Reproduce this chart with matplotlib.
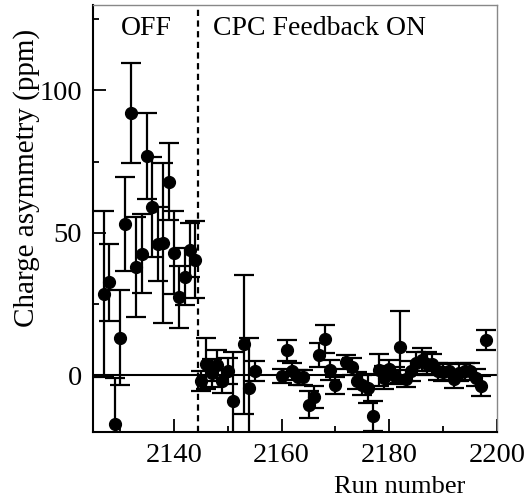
import numpy as np
import matplotlib
matplotlib.use('Agg')
import matplotlib.pyplot as plt
from matplotlib.ticker import MultipleLocator

# feedback OFF runs
runs_off = [2127, 2128, 2129, 2130, 2131, 2132, 2133, 2134, 2135,
            2136, 2137, 2138, 2139, 2140, 2141, 2142, 2143, 2144]
asym_off = [28.5, 32.7, -17, 13.1, 53, 92, 38, 42.7, 77,
            59, 46, 46.5, 68, 43, 27.5, 34.5, 44, 40.5]
err_off = [29, 13.5, 16, 16.7, 16.5, 17.5, 17.5, 14, 15,
           17.5, 13, 28, 13.5, 14.5, 11, 10, 9.5, 13.5]

# feedback ON runs
runs_on = [2145, 2146, 2147, 2148, 2149, 2150, 2151, 2153, 2154, 2155,
           2160, 2161, 2162, 2163, 2164, 2165, 2166, 2167, 2168, 2169,
           2170, 2172, 2173, 2174, 2175, 2176, 2177, 2178, 2179, 2180,
           2181, 2182, 2183, 2184, 2185, 2186, 2187, 2188, 2189, 2190,
           2191, 2192, 2193, 2194, 2195, 2196, 2197, 2198]
asym_on = [-1.9, 4.0, 0.8, 3.5, -2.1, 1.4, -9.2, 10.8, -4.5, 1.6,
           -0.3, 8.8, 1.3, -0.8, -0.8, -10.3, -7.7, 7.0, 12.7, 1.7,
           -3.6, 4.7, 3.0, -1.9, -3.5, -4.6, -14.2, 1.7, -0.9, 2.3,
           -0.2, 9.8, -1.2, 1.5, 4.3, 5.5, 4.0, 3.8, 1.4, 1.0,
           1.4, -1.5, 0.8, 1.4, 1.4, -0.9, -3.9, 12.2]
err_on = [3.5, 9, 5, 5.5, 4, 4.6, 17.4, 24.4, 17.6, 3.5,
          2.5, 3.7, 3, 2.5, 2.5, 4.6, 4, 4.2, 4.8, 3.5,
          3, 2.5, 3, 3, 3.5, 5, 5.3, 5.6, 4, 3,
          3, 12.6, 3, 3.5, 4, 4, 4, 3.5, 3, 3,
          3, 3, 3, 3, 3, 3, 3.5, 3.5]

plt.rcParams['font.family'] = 'Liberation Serif'

fig = plt.figure(figsize=(5.26, 4.99), dpi=100)
ax = fig.add_axes([0.177, 0.134, 0.768, 0.856])

ax.axhline(0, color='black', lw=1.5, zorder=1)
ax.axvline(2144.5, color='black', lw=1.6, ls=(0, (2.8, 2)), zorder=1)

for r, a, e in [(runs_off, asym_off, err_off), (runs_on, asym_on, err_on)]:
    ax.errorbar(r, a, yerr=e, fmt='o', color='black', ms=8.5,
                elinewidth=1.6, capsize=7.5, capthick=1.6, zorder=3)

ax.set_xlim(2125, 2200)
ax.set_ylim(-20, 130)
ax.xaxis.set_major_locator(MultipleLocator(20))
ax.xaxis.set_minor_locator(MultipleLocator(10))
ax.yaxis.set_major_locator(MultipleLocator(50))
ax.yaxis.set_minor_locator(MultipleLocator(25))
ax.tick_params(which='both', direction='in', top=False, right=False,
               labelsize=20.5, width=1.3)
ax.tick_params(which='major', length=9.5, pad=8)
ax.tick_params(which='minor', length=4.5)

for s in ['left', 'bottom']:
    ax.spines[s].set_linewidth(1.5)
for s in ['top', 'right']:
    ax.spines[s].set_color('#888888')
    ax.spines[s].set_linewidth(1.0)

ax.set_ylabel('Charge asymmetry (ppm)', fontsize=21)
ax.yaxis.set_label_coords(-0.132, 0.595)
fig.text(0.76, 0.012, 'Run number', fontsize=19, ha='center', va='baseline')

ax.text(2134.8, 126, 'OFF', fontsize=20, ha='center', va='top')
ax.text(2167, 126, 'CPC Feedback ON', fontsize=20, ha='center', va='top')

fig.savefig('out.png', dpi=100)
